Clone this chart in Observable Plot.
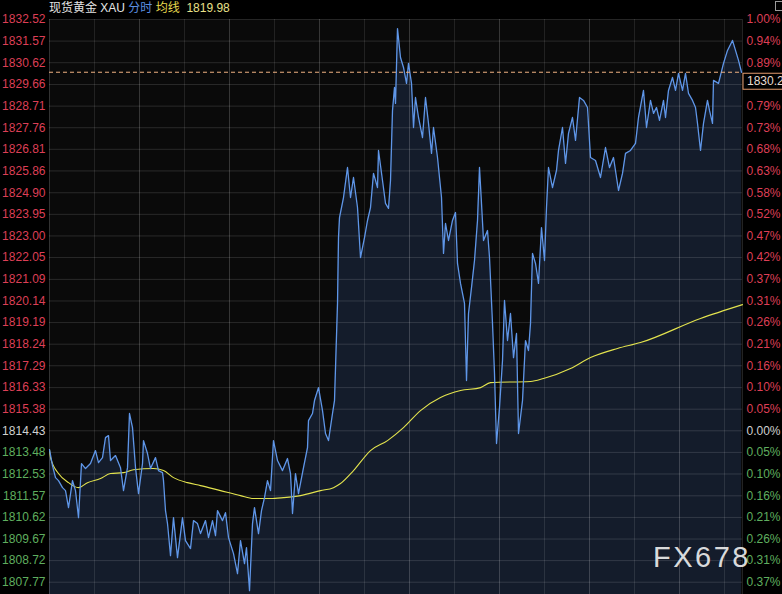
<!DOCTYPE html>
<html><head><meta charset="utf-8">
<script src="https://cdn.jsdelivr.net/npm/d3@7"></script>
<script src="https://cdn.jsdelivr.net/npm/@observablehq/plot@0.6"></script>
<style>
html,body{margin:0;padding:0;background:#000;}
#wrap{position:relative;width:782px;height:594px;overflow:hidden;font-family:"Liberation Sans",Arial,"Noto Sans CJK SC",sans-serif;}
#chart{position:absolute;left:0;top:0;}
#title{position:absolute;left:49px;top:0;font-size:12px;line-height:17px;white-space:pre;color:#e4e4e4;font-family:"Liberation Sans","Noto Sans CJK SC",sans-serif;}
#mark{position:absolute;left:653px;top:543px;font-size:29px;line-height:29px;letter-spacing:2.5px;color:rgba(238,238,238,0.92);}
#icon{position:absolute;left:775px;top:1px;width:7px;height:10px;border:1px solid #9a9a9a;border-right:none;box-sizing:border-box;}
</style></head>
<body>
<div id="wrap">
  <div id="chart"></div>
  <div id="title">现货黄金 XAU <span style="color:#5b8fe0">分时</span> <span style="color:#e6d84e">均线</span>  <span style="color:#e8e08a" id="avgval"></span></div>
  <div id="mark">FX678</div>
  <div id="icon"></div>
</div>
<script>
// ---- data ----
const basePrice = 1814.43;      // previous close (0.00%)
const lastPrice = 1830.2;
const lastAvg = 1819.98;
const priceTicks = [1832.52,1831.57,1830.62,1829.66,1828.71,1827.76,1826.81,1825.86,1824.90,1823.95,1823.00,1822.05,1821.09,1820.14,1819.19,1818.24,1817.29,1816.33,1815.38,1814.43,1813.48,1812.53,1811.57,1810.62,1809.67,1808.72,1807.77];
const hiddenPctTicks = [1829.66];   // covered by the last-price box in the reference
const yLow = 1807.23, yHigh = 1832.52;
const tMax = 693;
const majorTimes = [0,90,180,270,360,450,540,630];
const minorTimes = [45,135,225,315,405,495,585,675];

const priceTime = [0,3,6,9,13,16,19,23,26,29,32,36,41,46,49,53,56,59,61,66,71,74,78,80,83,86,89,93,94,98,101,106,109,113,114,116,118,121,124,128,133,136,141,144,148,151,156,159,163,166,168,173,176,179,184,188,191,195,197,200,203,205,209,212,215,218,221,224,228,233,238,241,243,246,249,254,258,259,263,265,269,273,276,279,283,285,288,289,290,294,298,301,304,308,311,315,318,321,324,328,329,333,336,339,341,343,345,346,348,351,354,357,359,362,364,366,369,373,376,379,382,384,388,389,392,394,396,399,403,406,408,411,415,417,419,422,425,428,430,432,434,438,440,443,445,447,450,453,455,458,461,464,467,469,473,476,479,481,483,486,489,492,495,497,499,503,507,509,513,516,519,523,526,530,534,538,541,546,551,556,560,564,569,573,576,581,586,589,594,597,601,604,607,610,614,616,619,623,626,629,633,636,639,643,646,648,651,654,658,660,663,664,669,674,678,683,686,689,692];
const priceValue = [1813.60,1812.90,1812.37,1812.24,1811.93,1811.80,1811.05,1812.24,1811.80,1810.61,1812.99,1812.77,1812.99,1813.56,1813.03,1813.25,1814.13,1814.22,1813.12,1813.34,1812.81,1811.80,1812.81,1815.19,1814.57,1812.81,1811.67,1812.99,1814.00,1813.43,1812.77,1813.25,1812.68,1812.59,1812.24,1810.92,1810.35,1808.94,1810.61,1808.85,1810.61,1809.60,1809.25,1810.48,1810.35,1809.91,1810.48,1809.73,1810.48,1809.82,1810.92,1810.48,1810.83,1809.73,1809.03,1808.15,1809.60,1808.59,1809.29,1807.40,1810.35,1811.05,1809.91,1810.92,1811.49,1812.24,1811.80,1814.00,1813.12,1812.68,1813.21,1812.55,1810.79,1812.55,1811.67,1812.81,1813.69,1814.88,1815.19,1815.76,1816.33,1815.32,1814.31,1814.00,1815.19,1815.76,1820.03,1822.93,1823.81,1824.69,1826.01,1824.69,1825.57,1824.25,1822.05,1822.93,1823.68,1824.25,1825.75,1825.13,1826.76,1825.44,1824.43,1824.21,1825.44,1828.52,1829.53,1828.83,1832.12,1830.85,1830.41,1829.71,1830.59,1829.71,1827.77,1829.09,1828.21,1827.33,1829.09,1827.95,1826.63,1827.77,1826.45,1826.01,1824.69,1822.23,1823.55,1822.80,1823.68,1824.03,1821.79,1820.91,1820.03,1816.64,1819.59,1820.73,1821.92,1823.68,1826.01,1824.43,1822.80,1823.24,1822.05,1819.15,1816.95,1813.87,1815.45,1817.52,1820.16,1818.40,1819.59,1817.65,1818.71,1814.31,1815.76,1818.40,1817.96,1819.15,1822.23,1821.79,1820.91,1823.37,1821.92,1824.25,1826.01,1825.13,1825.88,1826.76,1827.77,1826.19,1827.51,1828.21,1827.20,1829.09,1828.96,1828.65,1826.45,1826.32,1825.57,1826.89,1826.01,1826.45,1825.00,1825.75,1826.63,1826.76,1827.07,1828.21,1829.40,1827.77,1828.96,1828.39,1828.65,1828.08,1828.96,1828.21,1829.40,1829.97,1829.40,1830.15,1829.40,1830.15,1829.27,1828.96,1828.65,1827.95,1826.76,1827.95,1828.96,1828.52,1827.95,1829.84,1829.71,1830.59,1831.16,1831.60,1831.16,1830.72,1830.20];

const avgTime = [0,1,9,19,29,38,51,61,74,84,104,114,124,138,151,171,191,204,221,234,251,271,284,291,304,321,338,354,371,391,411,431,441,481,494,521,541,568,591,651,693];
const avgValue = [1813.60,1813.25,1812.55,1812.15,1811.93,1812.15,1812.33,1812.55,1812.59,1812.72,1812.77,1812.68,1812.37,1812.15,1812.02,1811.80,1811.58,1811.45,1811.45,1811.49,1811.58,1811.80,1811.93,1812.11,1812.68,1813.56,1814.00,1814.57,1815.32,1815.89,1816.20,1816.33,1816.55,1816.60,1816.73,1817.17,1817.65,1818.05,1818.31,1819.37,1819.98];

// ---- build tables ----
const prices = priceTime.map((t, i) => ({t, v: priceValue[i]}));
const avgs = avgTime.map((t, i) => ({t, v: avgValue[i]}));
const upTicks = priceTicks.filter(d => d > basePrice + 1e-9);
const flatTicks = priceTicks.filter(d => Math.abs(d - basePrice) < 1e-9);
const downTicks = priceTicks.filter(d => d < basePrice - 1e-9);
const upPctTicks = upTicks.filter(d => !hiddenPctTicks.includes(d));
const pct = d => (Math.abs(d - basePrice) / basePrice * 100).toFixed(2) + "%";
const fmt = d => d.toFixed(2);
const RED = "#dd3f56", GREEN = "#5fae5f", WHITE = "#cfcfcf";

document.getElementById("avgval").textContent = lastAvg.toFixed(2);

const axisOpts = (anchor, fill) => ({anchor, label: null, tickSize: 0, tickPadding: 4, fill, fontSize: 12, tickFormat: anchor === "left" ? fmt : pct});

const chart = Plot.plot({
  width: 782, height: 594,
  marginLeft: 49, marginRight: 40, marginTop: 19, marginBottom: 0,
  style: {background: "transparent", fontFamily: "'Liberation Sans', Arial, sans-serif", fontSize: "12px"},
  x: {domain: [0, tMax], axis: null},
  y: {domain: [yLow, yHigh], axis: null, label: null},
  marks: [
    Plot.frame({fill: "#0a0a0a", stroke: null}),
    Plot.areaY(prices, {x: "t", y1: yLow, y2: "v", fill: "#141c2b"}),
    Plot.ruleY(priceTicks, {stroke: "#ffffff", strokeOpacity: 0.13}),
    Plot.ruleX(minorTimes, {stroke: "#ffffff", strokeOpacity: 0.10}),
    Plot.ruleX(majorTimes, {stroke: "#ffffff", strokeOpacity: 0.18}),
    Plot.ruleX([tMax], {stroke: "#ffffff", strokeOpacity: 0.12}),
    Plot.line(avgs, {x: "t", y: "v", stroke: "#e3e34e", strokeWidth: 1.1, curve: "monotone-x"}),
    Plot.line(prices, {x: "t", y: "v", stroke: "#5f96e8", strokeWidth: 1.3}),
    Plot.ruleY([lastPrice], {stroke: "#f0b283", strokeDasharray: "4,3", strokeWidth: 1}),
    Plot.axisY(upTicks, axisOpts("left", RED)),
    Plot.axisY(flatTicks, axisOpts("left", WHITE)),
    Plot.axisY(downTicks, axisOpts("left", GREEN)),
    Plot.axisY(upPctTicks, axisOpts("right", RED)),
    Plot.axisY(flatTicks, axisOpts("right", WHITE)),
    Plot.axisY(downTicks, axisOpts("right", GREEN)),
    (index, {x, y}) => {
      const g = d3.create("svg:g");
      const yy = y(lastPrice);
      const x0 = x(tMax);
      g.append("rect").attr("x", x0 + 1).attr("y", yy + 1.5).attr("width", 44).attr("height", 16)
        .attr("fill", "#000").attr("stroke", "#e39a6c").attr("stroke-width", 1);
      g.append("text").attr("x", x0 + 5).attr("y", yy + 9.5).attr("dy", "0.35em")
        .attr("text-anchor", "start")
        .attr("fill", "#e6dcd2").attr("font-size", 12).text(String(lastPrice));
      return g.node();
    }
  ]
});
document.getElementById("chart").appendChild(chart);
</script>
</body></html>
